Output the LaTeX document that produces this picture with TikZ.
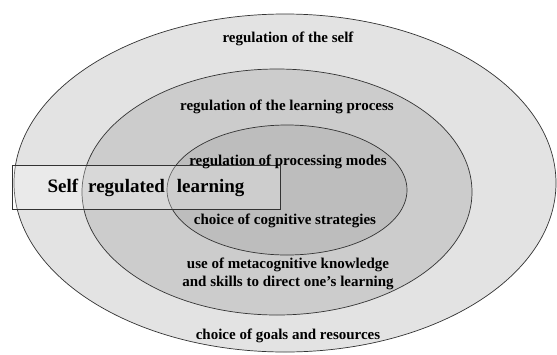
\documentclass[tikz,border=0pt]{standalone}
\usepackage{fontspec}
\setmainfont{Liberation Serif}
\tikzset{
  ring/.style={draw=black!80, line width=0.7pt},
  lbl/.style={font=\fontsize{15}{18}\selectfont\bfseries, inner sep=0pt, align=center},
}
\begin{document}
\begin{tikzpicture}[x=1pt,y=-1pt]
  \useasboundingbox (0,0) rectangle (557,354);
  \fill[white] (0,0) rectangle (557,354);
  % the three nested regions
  \draw[ring, fill=black!11] (285,183) ellipse [x radius=271pt, y radius=169pt];
  \draw[ring, fill=black!20] (277,192) ellipse [x radius=195pt, y radius=123pt];
  \draw[ring, fill=black!26] (287,190) ellipse [x radius=120pt, y radius=65pt];
  \draw[black!80, line width=0.7pt, fill=white, fill opacity=0.25] (12,165) rectangle (280,209);
  \node[lbl] (self) at (288,39) {regulation of the self};
  \node[lbl] (process) at (287,107) {regulation of the learning process};
  \node[lbl] (modes) at (288,162) {regulation of processing modes};
  \node[lbl] (strategies) at (285,221) {choice of cognitive strategies};
  \node[lbl] (meta) at (288,274) {use of metacognitive knowledge\\and skills to direct one's learning};
  \node[lbl] (goals) at (288,336) {choice of goals and resources};
  \node[lbl, font=\fontsize{19}{22}\selectfont\bfseries] (srl) at (146,188)
    {Self\hspace{10pt}regulated\hspace{12pt}learning};
\end{tikzpicture}
\end{document}
